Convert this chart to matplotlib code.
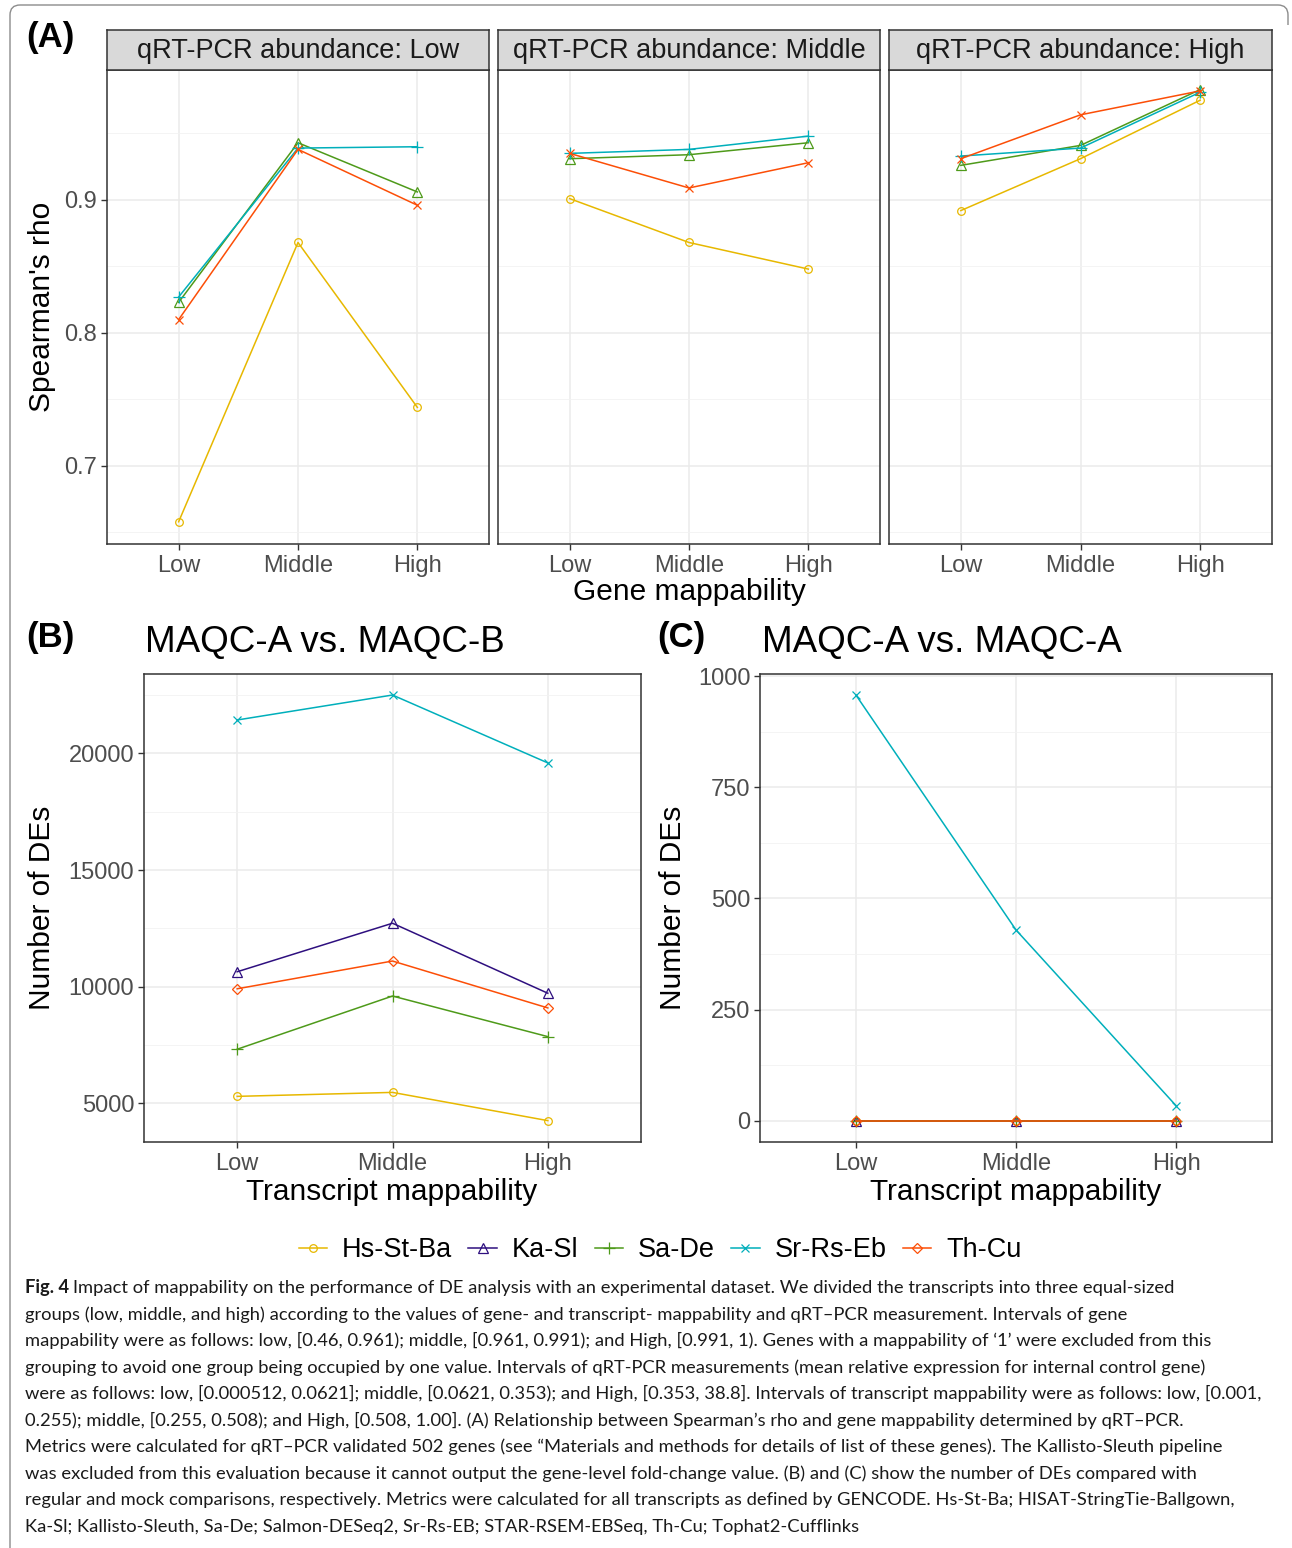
import numpy as np
import matplotlib.pyplot as plt
from matplotlib.lines import Line2D
from matplotlib.path import Path
from matplotlib.patches import PathPatch
from matplotlib.ticker import MultipleLocator

plt.rcParams['font.family'] = ['Liberation Sans', 'DejaVu Sans']

# categories
levels = ['Low', 'Middle', 'High']
abundance = ['Low', 'Middle', 'High']
pipelines = ['Hs-St-Ba', 'Ka-Sl', 'Sa-De', 'Sr-Rs-Eb', 'Th-Cu']
pipe_colors = ['#E7B800', '#2E0F7F', '#4E9A1A', '#00AFBB', '#FC4E07']

# (A) Spearman's rho, one row per qRT-PCR abundance facet, columns = gene mappability
rho_hs_st_ba = [[0.658, 0.868, 0.744], [0.901, 0.868, 0.848], [0.892, 0.931, 0.975]]
rho_sa_de = [[0.823, 0.943, 0.906], [0.931, 0.934, 0.943], [0.926, 0.941, 0.983]]
rho_sr_rs_eb = [[0.827, 0.939, 0.940], [0.935, 0.938, 0.948], [0.933, 0.939, 0.981]]
rho_th_cu = [[0.810, 0.938, 0.896], [0.935, 0.909, 0.928], [0.931, 0.964, 0.982]]

# (B) number of DEs, MAQC-A vs MAQC-B
de_ab_hs_st_ba = [5300, 5470, 4260]
de_ab_ka_sl = [10640, 12720, 9720]
de_ab_sa_de = [7320, 9600, 7860]
de_ab_sr_rs_eb = [21430, 22500, 19590]
de_ab_th_cu = [9910, 11100, 9090]

# (C) number of DEs, MAQC-A vs MAQC-A
de_aa_hs_st_ba = [0, 0, 0]
de_aa_ka_sl = [0, 0, 0]
de_aa_sa_de = [0, 0, 0]
de_aa_sr_rs_eb = [957, 429, 34]
de_aa_th_cu = [0, 0, 0]

caption_bold = 'Fig. 4'
caption_lines = [
    "Impact of mappability on the performance of DE analysis with an experimental dataset. We divided the transcripts into three equal-sized",
    "groups (low, middle, and high) according to the values of gene- and transcript- mappability and qRT\u2013PCR measurement. Intervals of gene",
    "mappability were as follows: low, [0.46, 0.961); middle, [0.961, 0.991); and High, [0.991, 1). Genes with a mappability of \u20181\u2019 were excluded from this",
    "grouping to avoid one group being occupied by one value. Intervals of qRT-PCR measurements (mean relative expression for internal control gene)",
    "were as follows: low, [0.000512, 0.0621]; middle, [0.0621, 0.353); and High, [0.353, 38.8]. Intervals of transcript mappability were as follows: low, [0.001,",
    "0.255); middle, [0.255, 0.508); and High, [0.508, 1.00]. (A) Relationship between Spearman\u2019s rho and gene mappability determined by qRT\u2013PCR.",
    "Metrics were calculated for qRT\u2013PCR validated 502 genes (see \u201cMaterials and methods for details of list of these genes). The Kallisto-Sleuth pipeline",
    "was excluded from this evaluation because it cannot output the gene-level fold-change value. (B) and (C) show the number of DEs compared with",
    "regular and mock comparisons, respectively. Metrics were calculated for all transcripts as defined by GENCODE. Hs-St-Ba; HISAT-StringTie-Ballgown,",
    "Ka-Sl; Kallisto-Sleuth, Sa-De; Salmon-DESeq2, Sr-Rs-EB; STAR-RSEM-EBSeq, Th-Cu; Tophat2-Cufflinks",
]

W, H = 1292, 1548
fig = plt.figure(figsize=(W / 100, H / 100), dpi=100)


def box(x0, x1, y0, y1):
    # pixel box measured from the top-left corner -> figure fraction
    return [x0 / W, 1 - y1 / H, (x1 - x0) / W, (y1 - y0) / H]


def style(ax, major, minor):
    ax.yaxis.set_major_locator(MultipleLocator(major))
    ax.yaxis.set_minor_locator(MultipleLocator(minor))
    ax.grid(which='major', color='#EBEBEB', lw=1.1)
    ax.grid(which='minor', axis='y', color='#F2F2F2', lw=0.6)
    ax.set_axisbelow(True)
    for s in ax.spines.values():
        s.set_color('#333333')
        s.set_linewidth(1.1)
    ax.tick_params(which='major', length=4, width=1, color='#333333',
                   labelcolor='#4D4D4D', labelsize=17)
    ax.tick_params(axis='y', pad=3)
    ax.tick_params(axis='x', pad=4)
    ax.tick_params(which='minor', length=0)
    ax.set_xlim(0.4, 3.6)
    ax.set_xticks([1, 2, 3])
    ax.set_xticklabels(levels)


x = np.arange(1, 4)
lw, mew = 1.1, 0.9

# ---- panel A ----
a_series = [rho_hs_st_ba, rho_sa_de, rho_sr_rs_eb, rho_th_cu]
a_colors = [pipe_colors[0], pipe_colors[2], pipe_colors[3], pipe_colors[4]]
a_markers = ['o', '^', '+', 'x']
a_sizes = [5.5, 7, 8, 6]
facet_x = [(107, 489), (498, 880), (889, 1272)]
for i, (x0, x1) in enumerate(facet_x):
    ax = fig.add_axes(box(x0, x1, 70, 544))
    style(ax, 0.1, 0.05)
    for vals, c, m, ms in zip(a_series, a_colors, a_markers, a_sizes):
        ax.plot(x, vals[i], color=c, lw=lw, marker=m, ms=ms, mfc='none', mec=c, mew=mew)
    ax.set_ylim(0.6413, 0.9977)
    if i > 0:
        ax.tick_params(axis='y', left=False, labelleft=False)
    strip = fig.add_axes(box(x0, x1, 30, 70))
    strip.set_facecolor('#D9D9D9')
    strip.set_xticks([])
    strip.set_yticks([])
    for s in strip.spines.values():
        s.set_color('#333333')
        s.set_linewidth(1.1)
    strip.text(0.5, 0.47, 'qRT-PCR abundance: ' + abundance[i], ha='center', va='center',
               fontsize=19.5, color='#1A1A1A', transform=strip.transAxes)

fig.text(42 / W, 1 - 307 / H, "Spearman's rho", rotation=90, ha='center', va='center', fontsize=21.5)
fig.text(689 / W, 1 - 592 / H, 'Gene mappability', ha='center', va='center', fontsize=21.5)

# ---- panels B and C ----
b_series = [de_ab_hs_st_ba, de_ab_ka_sl, de_ab_sa_de, de_ab_sr_rs_eb, de_ab_th_cu]
c_series = [de_aa_hs_st_ba, de_aa_ka_sl, de_aa_sa_de, de_aa_sr_rs_eb, de_aa_th_cu]
bc_markers = ['o', '^', '+', 'x', 'D']
bc_sizes = [5.5, 7, 8, 6, 5.5]

axb = fig.add_axes(box(144, 641, 674, 1142))
style(axb, 5000, 2500)
for vals, c, m, ms in zip(b_series, pipe_colors, bc_markers, bc_sizes):
    axb.plot(x, vals, color=c, lw=lw, marker=m, ms=ms, mfc='none', mec=c, mew=mew)
axb.set_ylim(3344, 23401)

axc = fig.add_axes(box(760, 1272, 674, 1142))
style(axc, 250, 125)
for vals, c, m, ms in zip(c_series, pipe_colors, bc_markers, bc_sizes):
    axc.plot(x, vals, color=c, lw=lw, marker=m, ms=ms, mfc='none', mec=c, mew=mew)
axc.set_ylim(-47.8, 1004.5)

fig.text(145 / W, 1 - 643 / H, 'MAQC-A vs. MAQC-B', ha='left', va='center', fontsize=26.5)
fig.text(762 / W, 1 - 643 / H, 'MAQC-A vs. MAQC-A', ha='left', va='center', fontsize=26.5)
fig.text(42 / W, 1 - 908 / H, 'Number of DEs', rotation=90, ha='center', va='center', fontsize=21.5)
fig.text(673 / W, 1 - 908 / H, 'Number of DEs', rotation=90, ha='center', va='center', fontsize=21.5)
fig.text(392 / W, 1 - 1192 / H, 'Transcript mappability', ha='center', va='center', fontsize=21.5)
fig.text(1016 / W, 1 - 1192 / H, 'Transcript mappability', ha='center', va='center', fontsize=21.5)

# panel tags
for tag, px, py in [('(A)', 50, 38), ('(B)', 50, 638), ('(C)', 681, 638)]:
    fig.text(px / W, 1 - py / H, tag, ha='center', va='center', fontsize=25, fontweight='bold')

# legend
handles = [Line2D([], [], color=c, lw=lw, marker=m, ms=ms, mfc='none', mec=c, mew=mew)
           for c, m, ms in zip(pipe_colors, bc_markers, bc_sizes)]
fig.legend(handles, pipelines, loc='center', bbox_to_anchor=(660 / W, 1 - 1250 / H), ncol=5,
           frameon=False, fontsize=19.5, handlelength=1.05, handletextpad=0.55, columnspacing=0.6)

# caption: one font size, chosen so that no line runs past its end in the reference
renderer = fig.canvas.get_renderer()
line_ends = [1236, 1226, 1262, 1287, 1285, 1226, 1266, 1266, 1272, 856]
bold = fig.text(25 / W, 0, caption_bold, fontsize=10, family='Lato', fontweight='bold')
scale = 1e9
for k, line in enumerate(caption_lines):
    probe = fig.text(0, 0, line, fontsize=10, family='Lato')
    wpx = probe.get_window_extent(renderer).width
    if k == 0:
        wpx += bold.get_window_extent(renderer).width + 4
    probe.remove()
    scale = min(scale, (line_ends[k] - 25) / wpx)
bold.remove()
cap_size = 10 * scale
base0 = 1293
step = 26.56
bold = fig.text(25 / W, 1 - base0 / H, caption_bold, fontsize=cap_size, family='Lato',
                fontweight='bold', va='baseline', color='#1A1A1A')
bw = bold.get_window_extent(renderer).width
fig.text((25 + bw + 4) / W, 1 - base0 / H, caption_lines[0], fontsize=cap_size, family='Lato',
         va='baseline', color='#1A1A1A')
for k, line in enumerate(caption_lines[1:], start=1):
    fig.text(25 / W, 1 - (base0 + k * step) / H, line, fontsize=cap_size, family='Lato',
             va='baseline', color='#1A1A1A')

# rounded frame around the figure (top and left edges)
pts = [(10, H), (10, 15), (10, 5), (20, 5), (1278, 5), (1288, 5), (1288, 15), (1288, 25)]
codes = [Path.MOVETO, Path.LINETO, Path.CURVE3, Path.CURVE3, Path.LINETO,
         Path.CURVE3, Path.CURVE3, Path.LINETO]
frame = Path([(px / W, 1 - py / H) for px, py in pts], codes)
fig.add_artist(PathPatch(frame, transform=fig.transFigure, fill=False, ec='#8C8C8C', lw=1))

fig.savefig('out.png', dpi=100)
